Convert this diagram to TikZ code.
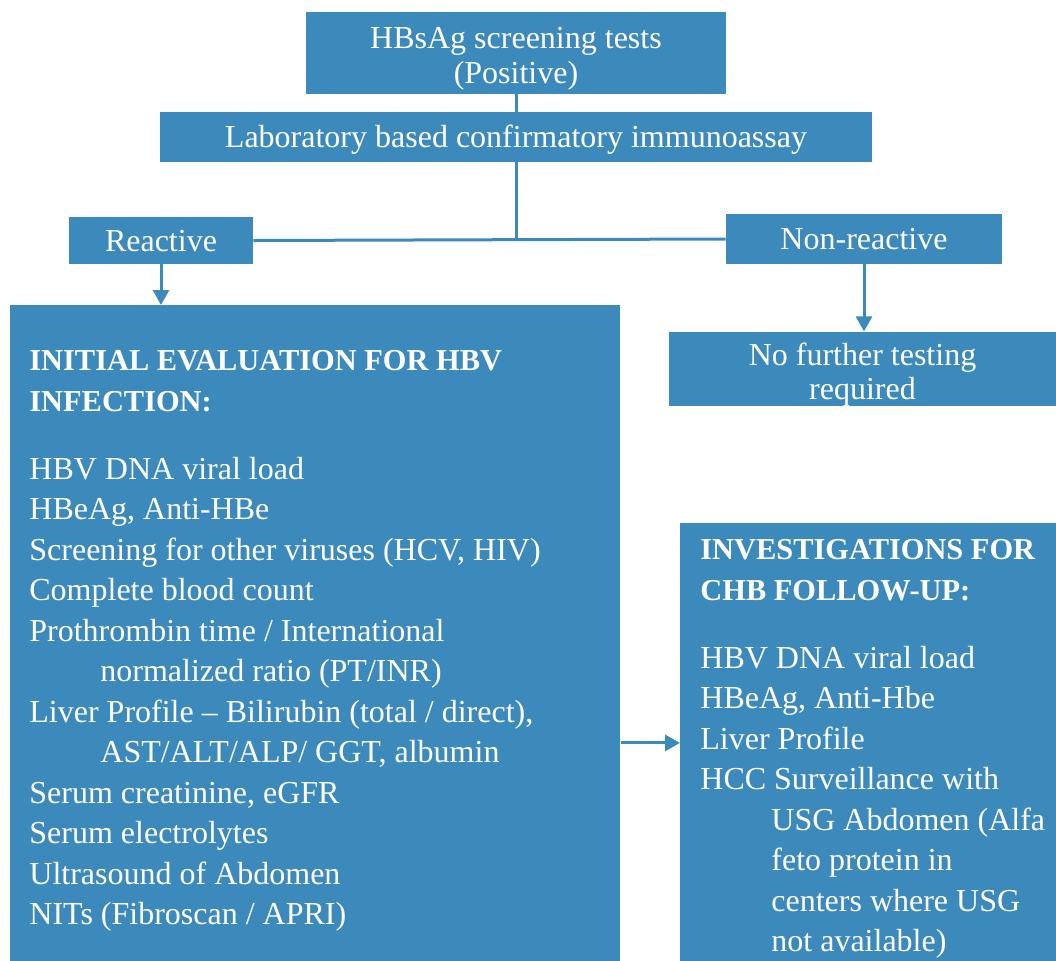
\documentclass[tikz,border=0pt]{standalone}
\usepackage{fontspec}
\setmainfont{Liberation Serif}
\usetikzlibrary{arrows.meta}
\definecolor{boxblue}{RGB}{60,137,188}
\newcommand\headfont{\fontsize{15.2}{20.25}\selectfont\bfseries}

\begin{document}
\begin{tikzpicture}[x=0.5pt, y=-0.5pt,
  box/.style={fill=boxblue, text=white, inner sep=0pt, align=center,
    font=\fontsize{16}{17.5}\selectfont},
  oneline/.style={box, text height=11.2pt, text depth=0.6pt},
  panel/.style={fill=boxblue, inner sep=0pt, anchor=north west},
  listtext/.style={text=white, inner sep=0pt, align=left, anchor=north west,
    font=\fontsize{16}{20.25}\selectfont},
  link/.style={draw=boxblue, line width=1.5pt},
  arr/.style={link, -{Triangle[width=8pt,length=7.5pt]}, boxblue}]

  \useasboundingbox (0,0) rectangle (1056,960);

  \node[box, minimum width=210pt, minimum height=41pt] (screen) at (516,53)
    {\rule{0pt}{16.3pt}HBsAg screening tests\\(Positive)};
  \node[oneline, minimum width=356pt, minimum height=25pt] (lab) at (516,137)
    {Laboratory based confirmatory immunoassay};
  \node[oneline, minimum width=92pt, minimum height=23.5pt] (reactive) at (161,240.5) {Reactive};
  \node[oneline, minimum width=138pt, minimum height=25pt] (nonreactive) at (864,239) {Non-reactive};
  \node[box, minimum width=193.5pt, minimum height=36pt, font=\fontsize{16}{17}\selectfont]
    (nofurther) at (862.5,369) {\rule{0pt}{16.8pt}No further testing\\required};

  % big panels, text set separately at the top
  \node[panel, minimum width=305pt, minimum height=328.5pt] (initial) at (10,305) {};
  \node[listtext] (initialtext) at (29,350) {%
    {\headfont INITIAL EVALUATION FOR HBV}\\
    {\headfont INFECTION:}\\[13.75pt]
    HBV DNA viral load\\
    HBeAg, Anti-HBe\\
    Screening for other viruses (HCV, HIV)\\
    Complete blood count\\
    Prothrombin time / International\\
    \hspace*{35.5pt}normalized ratio (PT/INR)\\
    Liver Profile – Bilirubin (total / direct),\\
    \hspace*{35.5pt}AST/ALT/ALP/ GGT, albumin\\
    Serum creatinine, eGFR\\
    Serum electrolytes\\
    Ultrasound of Abdomen\\
    NITs (Fibroscan / APRI)};

  \node[panel, minimum width=189pt, minimum height=219.5pt] (followup) at (680,523) {};
  \node[listtext] (followuptext) at (700,539) {%
    {\headfont INVESTIGATIONS FOR}\\
    {\headfont CHB FOLLOW-UP:}\\[13.75pt]
    HBV DNA viral load\\
    HBeAg, Anti-Hbe\\
    Liver Profile\\
    HCC Surveillance with\\
    \hspace*{35.5pt}USG Abdomen (Alfa\\
    \hspace*{35.5pt}feto protein in\\
    \hspace*{35.5pt}centers where USG\\
    \hspace*{35.5pt}not available)};

  \draw[link] (screen.south) -- (lab.north);
  \draw[link] (lab.south) -- (lab.south |- reactive.east);
  \draw[link] (reactive.east) -- (nonreactive.west);
  \draw[arr] (reactive.south) -- (initial.north -| reactive.south);
  \draw[arr] (nonreactive.south) -- (nonreactive.south |- nofurther.north);
  \draw[arr] (initial.east |- followup.west) -- (followup.west);
\end{tikzpicture}
\end{document}
